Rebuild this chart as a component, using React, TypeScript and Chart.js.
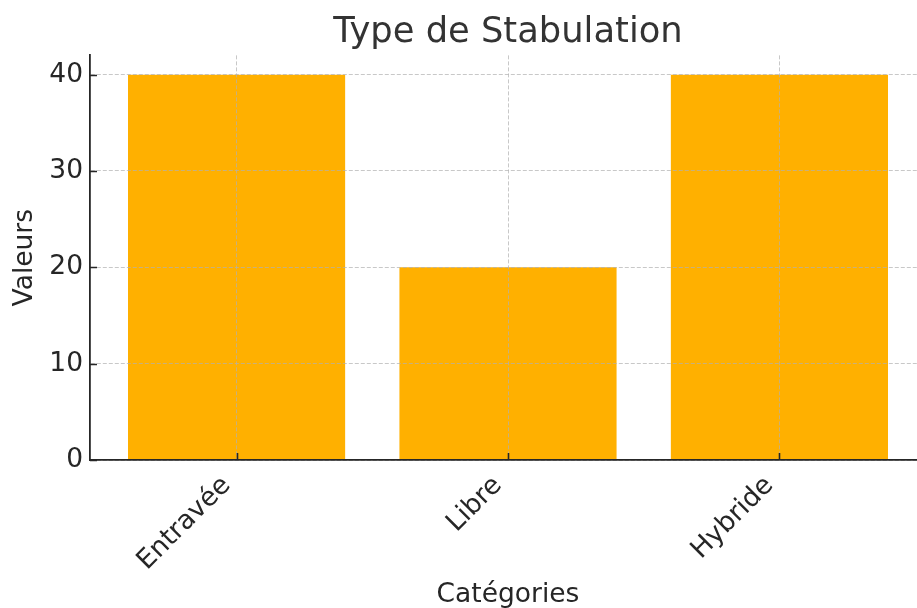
import React, { useEffect, useRef } from "react";
import { Chart, registerables } from "chart.js";

Chart.register(...registerables);

const categories: string[] = ["Entravée", "Libre", "Hybride"];
const values: number[] = [40, 20, 40];
const yTicks: number[] = [0, 10, 20, 30, 40];
const yLimits: [number, number] = [0, 42];
const xLimits: [number, number] = [-0.54, 2.54];

const FONT = "'DejaVu Sans', sans-serif";
const INK = "#262626";

const inwardTicks = {
  id: "inwardTicks",
  afterDraw(chart: any) {
    const { ctx, chartArea, scales } = chart;
    ctx.save();
    ctx.strokeStyle = INK;
    ctx.lineWidth = 1.6;
    ctx.setLineDash([]);
    ctx.beginPath();
    scales.x.ticks.forEach((t: any) => {
      const px = Math.round(scales.x.getPixelForValue(t.value)) + 0.5;
      ctx.moveTo(px, chartArea.bottom);
      ctx.lineTo(px, chartArea.bottom - 7);
    });
    scales.y.ticks.forEach((t: any) => {
      const py = Math.round(scales.y.getPixelForValue(t.value)) + 0.5;
      ctx.moveTo(chartArea.left, py);
      ctx.lineTo(chartArea.left + 7, py);
    });
    ctx.stroke();
    ctx.restore();
  },
};

export default function App() {
  const ref = useRef<HTMLCanvasElement | null>(null);
  useEffect(() => {
    if (!ref.current) return;
    const chart = new Chart(ref.current, {
      type: "bar",
      data: {
        datasets: [
          {
            data: categories.map((_, i) => ({ x: i, y: values[i] })),
            backgroundColor: "#FFB000",
            borderWidth: 0,
            barPercentage: 0.8,
            categoryPercentage: 1,
          },
        ],
      },
      options: {
        animation: false,
        responsive: false,
        maintainAspectRatio: false,
        layout: { padding: 0 },
        plugins: {
          legend: { display: false },
          tooltip: { enabled: false },
          title: {
            display: true,
            fullSize: false,
            text: "Type de Stabulation",
            color: "#333333",
            font: { family: FONT, size: 35.3, weight: "normal" },
            padding: { top: 12, bottom: 1 },
          },
        },
        scales: {
          x: {
            type: "linear",
            min: xLimits[0],
            max: xLimits[1],
            offset: false,
            afterBuildTicks: (scale: any) => {
              scale.ticks = categories.map((_, i) => ({ value: i }));
            },
            afterFit: (scale: any) => {
              scale.height = 148;
              scale.paddingLeft = 0;
              scale.paddingRight = 0;
            },
            ticks: {
              autoSkip: false,
              minRotation: 45,
              maxRotation: 45,
              padding: 10,
              labelOffset: -10,
              color: INK,
              font: { family: FONT, size: 26.5 },
              callback: (v: any) => categories[Math.round(Number(v))] ?? "",
            },
            grid: {
              offset: false,
              z: 1,
              color: "rgba(176,176,176,0.7)",
              lineWidth: 1,
              drawTicks: false,
            },
            border: { display: true, z: 2, color: INK, width: 1.8, dash: [4, 2] },
            title: {
              display: true,
              text: "Catégories",
              color: INK,
              font: { family: FONT, size: 26.5, lineHeight: 1 },
              padding: { top: 0, bottom: 0 },
            },
          },
          y: {
            type: "linear",
            min: yLimits[0],
            max: yLimits[1],
            afterBuildTicks: (scale: any) => {
              scale.ticks = yTicks.map((v) => ({ value: v }));
            },
            afterFit: (scale: any) => {
              scale.width = 90;
              scale.paddingTop = 0;
              scale.paddingBottom = 0;
            },
            ticks: {
              padding: 7,
              color: INK,
              font: { family: FONT, size: 26.5 },
              callback: (v: any) => String(v),
            },
            grid: {
              z: 1,
              color: "rgba(176,176,176,0.7)",
              lineWidth: 1,
              drawTicks: false,
            },
            border: { display: true, z: 2, color: INK, width: 1.8, dash: [4, 2] },
            title: {
              display: true,
              text: "Valeurs",
              color: INK,
              font: { family: FONT, size: 26.5 },
              padding: { top: 9, bottom: 0 },
            },
          },
        },
      },
      plugins: [inwardTicks],
    } as any);
    return () => chart.destroy();
  }, []);
  return (
    <div style={{ position: "fixed", left: 0, top: 0, width: 917, height: 608, overflow: "hidden", background: "#fff" }}>
      <canvas ref={ref} width={926} height={608} style={{ display: "block", width: 926, height: 608 }} />
    </div>
  );
}
